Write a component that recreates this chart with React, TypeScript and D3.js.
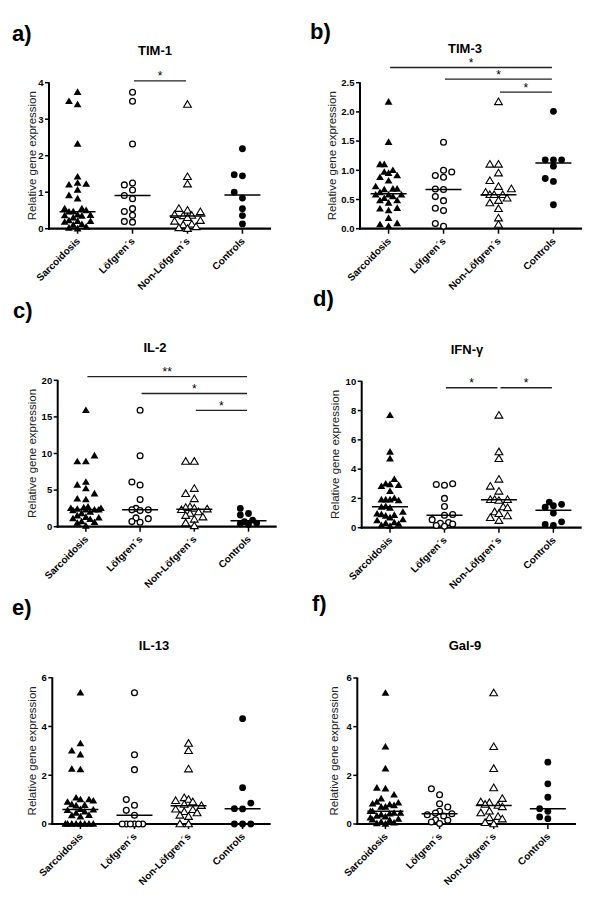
import React from "react";
import * as d3 from "d3";

const CATEGORIES = ["Sarcoidosis", "Löfgren´s", "Non-Löfgren´s", "Controls"];

// a) TIM-1
const TIM1_LOF = [3.74, 3.49, 2.32, 1.25, 1.2, 1.06, 0.91, 0.82, 0.55, 0.47, 0.37, 0.2, 0.18];
const TIM1_NONLOF = [3.4, 1.42, 1.22, 0.55, 0.5, 0.46, 0.38, 0.36, 0.35, 0.3, 0.22, 0.2, 0.12, 0.1, 0.05, 0.02, 0.0];
const TIM1_CTRL = [2.19, 1.48, 1.45, 1.0, 0.84, 0.55, 0.36, 0.13];
const TIM1_TICKS = [0, 1, 2, 3, 4];
const TIM1_SIG: [number, number, number, string][] = [[1, 2, 4.05, "*"]];

// b) TIM-3
const TIM3_LOF = [1.48, 1.0, 0.97, 0.91, 0.88, 0.68, 0.67, 0.55, 0.48, 0.35, 0.31, 0.09, 0.04];
const TIM3_NONLOF = [2.17, 1.1, 1.1, 0.95, 0.82, 0.72, 0.68, 0.62, 0.58, 0.58, 0.58, 0.52, 0.48, 0.44, 0.34, 0.18, 0.07];
const TIM3_CTRL = [2.01, 1.18, 1.18, 1.18, 1.07, 0.86, 0.81, 0.41];
const TIM3_TICKS = [0, 0.5, 1, 1.5, 2, 2.5];
const TIM3_SIG: [number, number, number, string][] = [
  [0, 3, 2.76, "*"],
  [1, 3, 2.56, "*"],
  [2, 3, 2.34, "*"],
];

// c) IL-2
const IL2_LOF = [15.9, 9.7, 6.1, 5.7, 3.7, 2.5, 2.3, 2.3, 2.2, 1.2, 1.1, 0.7, 0.6];
const IL2_NONLOF = [8.9, 8.9, 5.2, 4.5, 3.8, 2.7, 2.6, 2.5, 2.4, 2.3, 2.0, 1.8, 1.5, 1.3, 1.0, 0.5, 0.1];
const IL2_CTRL = [2.5, 1.8, 1.6, 0.9, 0.7, 0.5, 0.4, 0.3];
const IL2_TICKS = [0, 5, 10, 15, 20];
const IL2_SIG: [number, number, number, string][] = [
  [0, 3, 20.5, "**"],
  [1, 3, 18.2, "*"],
  [2, 3, 15.9, "*"],
];

// d) IFN-γ
const IFNG_LOF = [3.0, 2.95, 2.9, 2.0, 1.45, 0.9, 0.85, 0.55, 0.35, 0.3, 0.25, 0.15, 0.1];
const IFNG_NONLOF = [7.67, 5.17, 4.71, 3.3, 2.82, 2.48, 1.91, 1.91, 1.91, 1.85, 1.41, 1.35, 1.07, 0.95, 0.8, 0.68, 0.48];
const IFNG_CTRL = [1.75, 1.6, 1.5, 1.4, 1.0, 0.4, 0.22, 0.15];
const IFNG_TICKS = [0, 2, 4, 6, 8, 10];
const IFNG_SIG: [number, number, number, string][] = [
  [1, 2, 9.56, "*"],
  [2, 3, 9.56, "*"],
];

// e) IL-13
const IL13_LOF = [5.38, 2.84, 2.23, 1.0, 0.77, 0.56, 0.36, 0, 0, 0, 0, 0, 0];
const IL13_NONLOF = [3.3, 3.0, 2.25, 1.07, 1.0, 0.95, 0.9, 0.8, 0.75, 0.6, 0.58, 0.5, 0.45, 0.35, 0.3, 0, 0];
const IL13_CTRL = [4.32, 1.49, 0.86, 0.63, 0.62, 0, 0, 0];
const IL13_TICKS = [0, 2, 4, 6];
const IL13_SIG: [number, number, number, string][] = [];

// f) Gal-9
const GAL9_LOF = [1.45, 1.2, 0.83, 0.7, 0.52, 0.45, 0.42, 0.38, 0.33, 0.17, 0.15, 0.08, 0.02];
const GAL9_NONLOF = [5.38, 3.17, 2.27, 1.48, 1.04, 0.9, 0.87, 0.8, 0.76, 0.7, 0.52, 0.45, 0.3, 0.25, 0.2, 0.05, 0.0];
const GAL9_CTRL = [2.54, 1.65, 1.1, 0.63, 0.52, 0.29, 0.22];
const GAL9_TICKS = [0, 2, 4, 6];
const GAL9_SIG: [number, number, number, string][] = [];

const FONT = "Arial, 'Liberation Sans', Helvetica, sans-serif";

type Layout = {
  xL: number; yB: number; W: number; H: number;
  titleX: number; titleY: number; letterX: number; letterY: number; ylabX: number;
};

type PanelDef = {
  letter: string; title: string;
  lof: number[]; nonlof: number[]; ctrl: number[];
  ticks: number[]; fmt: string; sig: [number, number, number, string][];
  layout: Layout;
};

const PANELS: PanelDef[] = [
  { letter: "a)", title: "TIM-1", lof: TIM1_LOF, nonlof: TIM1_NONLOF, ctrl: TIM1_CTRL, ticks: TIM1_TICKS, fmt: "d", sig: TIM1_SIG,
    layout: { xL: 49, yB: 228.7, W: 222, H: 146, titleX: 155, titleY: 55, letterX: 12, letterY: 41, ylabX: 36 } },
  { letter: "b)", title: "TIM-3", lof: TIM3_LOF, nonlof: TIM3_NONLOF, ctrl: TIM3_CTRL, ticks: TIM3_TICKS, fmt: ".1f", sig: TIM3_SIG,
    layout: { xL: 360, yB: 228.7, W: 222, H: 146, titleX: 465, titleY: 53, letterX: 310, letterY: 39, ylabX: 336 } },
  { letter: "c)", title: "IL-2", lof: IL2_LOF, nonlof: IL2_NONLOF, ctrl: IL2_CTRL, ticks: IL2_TICKS, fmt: "d", sig: IL2_SIG,
    layout: { xL: 57.7, yB: 526.7, W: 219, H: 146.4, titleX: 155, titleY: 352, letterX: 13, letterY: 318, ylabX: 36 } },
  { letter: "d)", title: "IFN-γ", lof: IFNG_LOF, nonlof: IFNG_NONLOF, ctrl: IFNG_CTRL, ticks: IFNG_TICKS, fmt: "d", sig: IFNG_SIG,
    layout: { xL: 361.7, yB: 527.7, W: 220, H: 146.4, titleX: 467, titleY: 354, letterX: 313, letterY: 306, ylabX: 339 } },
  { letter: "e)", title: "IL-13", lof: IL13_LOF, nonlof: IL13_NONLOF, ctrl: IL13_CTRL, ticks: IL13_TICKS, fmt: "d", sig: IL13_SIG,
    layout: { xL: 52.3, yB: 824, W: 218.4, H: 146.3, titleX: 154, titleY: 650, letterX: 12, letterY: 615, ylabX: 36 } },
  { letter: "f)", title: "Gal-9", lof: GAL9_LOF, nonlof: GAL9_NONLOF, ctrl: GAL9_CTRL, ticks: GAL9_TICKS, fmt: "d", sig: GAL9_SIG,
    layout: { xL: 357.3, yB: 824, W: 218.7, H: 146, titleX: 465, titleY: 650, letterX: 312, letterY: 611, ylabX: 338 } },
];

// GraphPad-like column scatter: greedy placement into horizontal slots (kept narrow)
function swarm(values: number[], y: (v: number) => number, s: number, h: number): number[] {
  const idx = values.map((_, i) => i).sort((a, b) => values[a] - values[b]);
  const placed: { x: number; y: number }[] = [];
  const out: number[] = new Array(values.length).fill(0);
  const full = [0, -1, 1];
  const half = [-0.5, 0.5, -1.5, 1.5];
  for (const i of idx) {
    const py = y(values[i]);
    const ok = (k: number, thr: number) =>
      placed.every((p) => Math.abs(p.x - k * s) >= thr || Math.abs(p.y - py) >= h);
    let k = full.find((c) => ok(c, s * 0.95));
    if (k === undefined) k = [...half, ...full].find((c) => ok(c, s * 0.45));
    if (k === undefined) k = [-1.75, 1.75, -0.25, 0.25, -1.25, 1.25, -0.75, 0.75].find((c) => ok(c, s * 0.2));
    if (k === undefined) k = 0;
    placed.push({ x: k * s, y: py });
    out[i] = k * s;
  }
  return out;
}

const TRI = "M0,-3.9L3.9,2.7L-3.9,2.7Z";

function Panel({ p }: { p: PanelDef }) {
  const L = p.layout;
  const yMax = p.ticks[p.ticks.length - 1];
  const y = d3.scaleLinear().domain([0, yMax]).range([L.yB, L.yB - L.H]);
  const x = d3.scalePoint<string>().domain(CATEGORIES).range([L.xL, L.xL + L.W]).padding(0.52);
  const sarc = [...p.lof, ...p.nonlof];
  const groups = [sarc, p.lof, p.nonlof, p.ctrl];
  const fmt = d3.format(p.fmt);
  const yT = L.yB - L.H;

  const renderSymbol = (gi: number, cx: number, cy: number, key: string) => {
    if (gi === 0) return <path key={key} d={TRI} transform={`translate(${cx},${cy})`} fill="#000" />;
    if (gi === 1) return <circle key={key} cx={cx} cy={cy} r={2.9} fill="#fff" stroke="#000" strokeWidth={1.3} />;
    if (gi === 2) return <path key={key} d={TRI} transform={`translate(${cx},${cy})`} fill="#fff" stroke="#000" strokeWidth={1.1} />;
    return <circle key={key} cx={cx} cy={cy} r={3.4} fill="#000" />;
  };

  return (
    <g fontFamily={FONT}>
      <text x={L.letterX} y={L.letterY} fontSize={22} fontWeight="bold">{p.letter}</text>
      <text x={L.titleX} y={L.titleY} fontSize={13} fontWeight="bold" textAnchor="middle">{p.title}</text>
      <text
        transform={`translate(${L.ylabX},${(L.yB + yT) / 2}) rotate(-90)`}
        fontSize={11.5}
        textAnchor="middle"
        fill="#222"
      >
        Relative gene expression
      </text>
      {/* y axis */}
      <line x1={L.xL} x2={L.xL} y1={yT - 0.5} y2={L.yB + 1} stroke="#000" strokeWidth={2} />
      {p.ticks.map((t) => (
        <g key={t}>
          <line x1={L.xL - 4} x2={L.xL} y1={y(t)} y2={y(t)} stroke="#000" strokeWidth={1.5} />
          <text x={L.xL - 5.5} y={y(t)} dy="0.35em" fontSize={9.5} fontWeight="bold" textAnchor="end">
            {fmt(t)}
          </text>
        </g>
      ))}
      {/* x axis */}
      <line x1={L.xL - 1} x2={L.xL + L.W} y1={L.yB} y2={L.yB} stroke="#000" strokeWidth={2.2} />
      {CATEGORIES.map((c) => (
        <g key={c}>
          <line x1={x(c)!} x2={x(c)!} y1={L.yB} y2={L.yB + 5} stroke="#000" strokeWidth={1.5} />
          <text
            transform={`translate(${x(c)! + 3},${L.yB + 13}) rotate(-45)`}
            fontSize={10}
            fontWeight="bold"
            textAnchor="end"
          >
            {c}
          </text>
        </g>
      ))}
      {/* points */}
      {groups.map((vals, gi) => {
        const offs = swarm(vals, y, gi === 0 || gi === 2 ? 8.6 : 8.2, 6.2);
        return (
          <g key={gi}>
            {vals.map((v, i) => renderSymbol(gi, x(CATEGORIES[gi])! + offs[i], y(v), `${gi}-${i}`))}
          </g>
        );
      })}
      {/* medians */}
      {groups.map((vals, gi) => {
        const m = d3.median(vals)!;
        const cx = x(CATEGORIES[gi])!;
        return <line key={gi} x1={cx - 18} x2={cx + 18} y1={y(m)} y2={y(m)} stroke="#000" strokeWidth={1.5} />;
      })}
      {/* significance bars */}
      {p.sig.map(([a, b, v, lab], i) => {
        const x1 = x(CATEGORIES[a])! + 1.5;
        const x2 = x(CATEGORIES[b])! - 1.5;
        return (
          <g key={i}>
            <line x1={x1} x2={x2} y1={y(v)} y2={y(v)} stroke="#222" strokeWidth={1.3} />
            <text x={(x1 + x2) / 2} y={y(v) - 0.5} fontSize={12} textAnchor="middle">{lab}</text>
          </g>
        );
      })}
    </g>
  );
}

export default function App() {
  return (
    <svg
      width={600}
      height={913}
      viewBox="0 0 600 913"
      style={{ position: "absolute", left: 0, top: 0, display: "block", background: "#fff" }}
    >
      <rect width={600} height={913} fill="#fff" />
      {PANELS.map((p) => (
        <Panel key={p.letter} p={p} />
      ))}
    </svg>
  );
}
